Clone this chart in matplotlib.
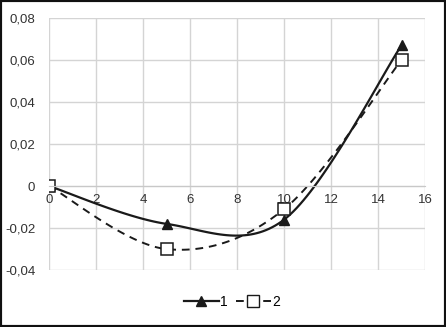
import numpy as np
import matplotlib
matplotlib.use('Agg')
import matplotlib.pyplot as plt
from matplotlib.patches import Rectangle

# dados
x1 = [0, 5, 10, 15]
y1 = [0, -0.018, -0.016, 0.067]
x2 = [0, 5, 10, 15]
y2 = [0, -0.030, -0.011, 0.060]
nomes = ['1', '2']
yticks = [-0.04, -0.02, 0, 0.02, 0.04, 0.06, 0.08]
xticks = [0, 2, 4, 6, 8, 10, 12, 14, 16]


# curva suave estilo Excel (Catmull-Rom -> Bezier)
def suave(xs, ys, n=40):
    p = np.column_stack([xs, ys]).astype(float)
    p = np.vstack([p[0], p, p[-1]])
    out = []
    for i in range(1, len(p) - 2):
        b0 = p[i]
        b3 = p[i + 1]
        b1 = b0 + (p[i + 1] - p[i - 1]) / 6
        b2 = b3 - (p[i + 2] - p[i]) / 6
        t = np.linspace(0, 1, n)[:, None]
        seg = (1 - t)**3 * b0 + 3 * (1 - t)**2 * t * b1 + 3 * (1 - t) * t**2 * b2 + t**3 * b3
        out.append(seg)
    c = np.vstack(out)
    return c[:, 0], c[:, 1]


plt.rcParams['font.family'] = ['Liberation Sans', 'DejaVu Sans']
fig = plt.figure(figsize=(4.46, 3.27), dpi=100)
ax = fig.add_axes([0.110, 0.174, 0.843, 0.771])

sx, sy = suave(x1, y1)
ax.plot(sx, sy, color='#1a1a1a', lw=1.6)
ax.plot(x1, y1, linestyle='none', marker='^', ms=7, color='#1a1a1a')

sx, sy = suave(x2, y2)
ax.plot(sx, sy, color='#1a1a1a', lw=1.4, linestyle=(0, (4, 3)))
ax.plot(x2, y2, linestyle='none', marker='s', ms=8, mfc='white', mec='#1a1a1a', mew=1.1)

ax.set_xlim(0, 16)
ax.set_ylim(-0.04, 0.08)
ax.set_xticks(xticks)
ax.set_yticks(yticks)
ax.set_yticklabels([('%g' % v).replace('.', ',') if v == 0 else ('%.2f' % v).replace('.', ',') for v in yticks])
ax.grid(color='#d4d4d4', lw=1)
ax.set_axisbelow(True)
for s in ['top', 'right', 'left']:
    ax.spines[s].set_visible(False)
ax.spines['bottom'].set_position(('data', 0))
ax.spines['bottom'].set_color('#c8c8c8')
ax.tick_params(length=0, labelsize=9.5, colors='#333333')
ax.tick_params(axis='x', pad=6)
ax.tick_params(axis='y', pad=10)
for lb in ax.get_xticklabels():
    lb.set_horizontalalignment('center')

h1 = plt.Line2D([], [], color='#1a1a1a', lw=1.6, marker='^', ms=7)
h2 = plt.Line2D([], [], color='#1a1a1a', lw=1.4, linestyle=(0, (4, 3)), marker='s', ms=8, mfc='white')
fig.legend([h1, h2], nomes, loc='center', bbox_to_anchor=(0.52, 0.077), ncol=2, frameon=False,
           fontsize=10, handlelength=2.5, columnspacing=0.6, handletextpad=0.1)

fig.patches.append(Rectangle((0, 0), 1, 1, transform=fig.transFigure, fill=False, lw=3, ec='#111111'))
fig.savefig('out.png', dpi=100)
